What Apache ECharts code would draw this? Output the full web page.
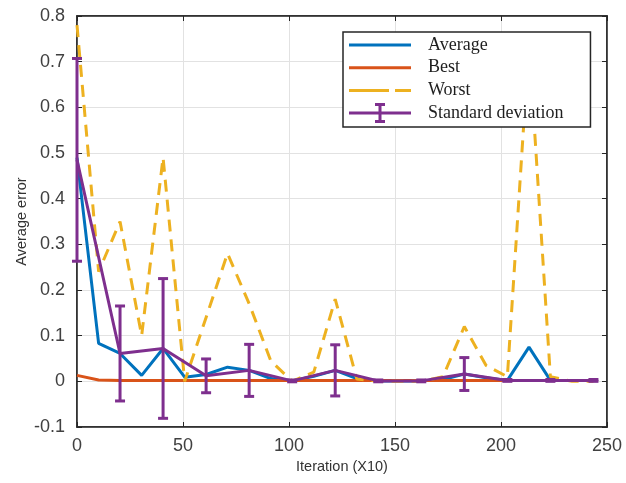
<!DOCTYPE html>
<html><head><meta charset="utf-8">
<script src="https://cdn.jsdelivr.net/npm/echarts@6/dist/echarts.min.js"></script>
<style>html,body{margin:0;padding:0;background:#fff}#c{width:626px;height:483px}</style>
</head><body><div id="c"></div>
<script>
// x positions (Iteration x10)
const iterations = [0,10.2,20.3,30.5,40.6,50.8,60.9,71,81.2,91.4,101.5,111.7,121.8,132,142.1,152.3,162.4,172.6,182.7,192.9,203,213.2,223.3,233.5,243.6];
const averageVals = [0.49,0.083,0.061,0.013,0.072,0.009,0.015,0.031,0.024,0.006,0.001,0.011,0.024,0.006,0.001,0.001,0.001,0.004,0.016,0.008,0.002,0.075,0.002,0.002,0.002];
const bestVals = [0.013,0.003,0.002,0.002,0.002,0.002,0.002,0.002,0.002,0.002,0.002,0.002,0.002,0.002,0.002,0.002,0.002,0.002,0.002,0.002,0.002,0.002,0.002,0.002,0.002];
const worstVals = [0.78,0.24,0.35,0.10,0.49,0.0,0.14,0.28,0.17,0.045,0.0,0.02,0.18,0.005,0.0,0.0,0.0,0.01,0.12,0.035,0.01,0.74,0.01,0.0,0.0];
const stdX = [0,20.3,40.6,60.9,81.2,101.5,121.8,142.1,162.4,182.7,203,223.3,243.6];
const stdMean = [0.485,0.061,0.072,0.012,0.024,0.001,0.024,0.001,0.001,0.016,0.002,0.002,0.002];
const stdDev = [0.222,0.104,0.153,0.037,0.057,0.002,0.056,0.002,0.002,0.036,0.002,0.002,0.002];
const xTicks = {min:0, max:250, interval:50};
const yTicks = {min:-0.1, max:0.8, interval:0.1};
const seriesNames = ['Average','Best','Worst','Standard deviation'];

const C = {avg:'#0072BD', best:'#D95319', worst:'#EDB120', std:'#7E2F8E'};
const axisColor = '#262626';
const tickFont = {fontFamily:'Liberation Sans, Arial, sans-serif', fontSize:18, color:'#404040'};
const nameFont = {fontFamily:'Liberation Sans, Arial, sans-serif', fontSize:14.5, color:'#333'};

function zip(xs, ys){ return xs.map((x,i)=>[x, ys[i]]); }

const chart = echarts.init(document.getElementById('c'), null, {renderer:'canvas'});
const baseX = {type:'value', min:xTicks.min, max:xTicks.max, interval:xTicks.interval};
const baseY = {type:'value', min:yTicks.min, max:yTicks.max, interval:yTicks.interval};
const option = {
  animation:false,
  backgroundColor:'#fff',
  grid:{left:77, right:19, top:16, bottom:56, show:true, borderColor:axisColor, borderWidth:1.5, backgroundColor:'#fff'},
  xAxis:[
    Object.assign({}, baseX, {
      name:'Iteration (X10)', nameLocation:'middle', nameGap:32, nameMoveOverlap:false, nameTextStyle:nameFont,
      axisLine:{show:true, onZero:false, lineStyle:{color:axisColor, width:1.5}},
      axisTick:{show:true, inside:true, length:5, lineStyle:{color:axisColor}},
      axisLabel:Object.assign({margin:10}, tickFont),
      splitLine:{show:true, lineStyle:{color:'#e2e2e2', width:1}}
    }),
    Object.assign({}, baseX, {
      position:'top',
      axisLine:{show:true, onZero:false, lineStyle:{color:axisColor, width:1.5}},
      axisTick:{show:true, inside:true, length:5, lineStyle:{color:axisColor}},
      axisLabel:{show:false}, splitLine:{show:false}
    })
  ],
  yAxis:[
    Object.assign({}, baseY, {
      name:'Average error', nameLocation:'middle', nameGap:48, nameMoveOverlap:false, nameTextStyle:nameFont,
      axisLine:{show:true, onZero:false, lineStyle:{color:axisColor, width:1.5}},
      axisTick:{show:true, inside:true, length:5, lineStyle:{color:axisColor}},
      axisLabel:Object.assign({margin:12, formatter:v=>String(+v.toFixed(1))}, tickFont),
      splitLine:{show:true, lineStyle:{color:'#e2e2e2', width:1}}
    }),
    Object.assign({}, baseY, {
      position:'right',
      axisLine:{show:true, onZero:false, lineStyle:{color:axisColor, width:1.5}},
      axisTick:{show:true, inside:true, length:5, lineStyle:{color:axisColor}},
      axisLabel:{show:false}, splitLine:{show:false}
    })
  ],
  legend:{
    orient:'vertical', left:343, top:32, selectedMode:false, z:50,
    backgroundColor:'#fff', borderColor:axisColor, borderWidth:1.5, borderRadius:0,
    padding:[3,27,4,6], itemWidth:62, itemHeight:20, itemGap:2.7, symbolKeepAspect:true,
    textStyle:{fontFamily:'Liberation Serif, Times New Roman, serif', fontSize:18, lineHeight:20, color:'#1e1e1e', padding:[0,0,0,12]},
    itemStyle:{borderWidth:0},
    data:[
      {name:seriesNames[0], icon:'path://M0 8.5H62V11.5H0Z'},
      {name:seriesNames[1], icon:'path://M0 8.5H62V11.5H0Z'},
      {name:seriesNames[2], icon:'path://M0 8.5H40V11.5H0Z M46 8.5H62V11.5H46Z'},
      {name:seriesNames[3], icon:'path://M0 8.5H62V11.5H0Z M29.5 0H32.5V20H29.5Z M26 0H36V3H26Z M26 17H36V20H26Z'}
    ]
  },
  series:[
    {name:seriesNames[0], type:'line', data:zip(iterations, averageVals), symbol:'none', lineStyle:{color:C.avg, width:3}, itemStyle:{color:C.avg}, z:2},
    {name:seriesNames[1], type:'line', data:zip(iterations, bestVals), symbol:'none', lineStyle:{color:C.best, width:3}, itemStyle:{color:C.best}, z:3},
    {name:seriesNames[2], type:'line', data:zip(iterations, worstVals), symbol:'none', lineStyle:{color:C.worst, width:3, type:[12,8]}, itemStyle:{color:C.worst}, z:4},
    {name:seriesNames[3], type:'line', data:zip(stdX, stdMean), symbol:'none', lineStyle:{color:C.std, width:3}, itemStyle:{color:C.std}, z:5},
    {name:seriesNames[3], type:'custom', z:6,
      data:stdX.map((x,i)=>[x, stdMean[i]-stdDev[i], stdMean[i]+stdDev[i]]),
      encode:{x:0, y:[1,2]},
      itemStyle:{color:C.std},
      renderItem:function(params, api){
        const x = api.value(0);
        const lo = api.coord([x, api.value(1)]);
        const hi = api.coord([x, api.value(2)]);
        const hw = 5;
        const st = {stroke:C.std, lineWidth:3, fill:null};
        return {type:'group', children:[
          {type:'line', shape:{x1:lo[0], y1:lo[1], x2:hi[0], y2:hi[1]}, style:st},
          {type:'line', shape:{x1:lo[0]-hw, y1:lo[1], x2:lo[0]+hw, y2:lo[1]}, style:st},
          {type:'line', shape:{x1:hi[0]-hw, y1:hi[1], x2:hi[0]+hw, y2:hi[1]}, style:st}
        ]};
      }
    }
  ]
};
chart.setOption(option);
</script>
</body></html>
